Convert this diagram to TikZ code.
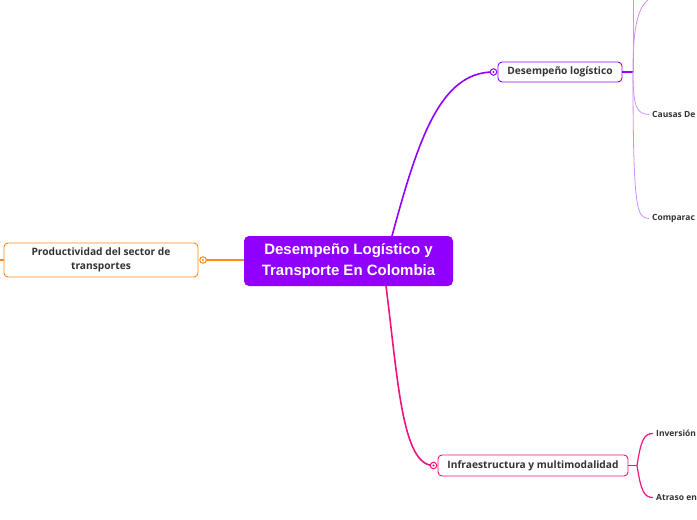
\documentclass[tikz,border=0pt]{standalone}
\usepackage{fontspec}
\setmainfont{Open Sans}
\newfontfamily\centralfont{Liberation Sans}
\definecolor{mpurple}{HTML}{8F00FF}
\definecolor{lpurple}{HTML}{C990FF}
\definecolor{mpink}{HTML}{F2127C}
\definecolor{morange}{HTML}{FF8A1C}
\definecolor{mtext}{HTML}{333333}
\tikzset{
  central/.style={fill=mpurple, rounded corners=5pt, minimum width=209pt, minimum height=50pt,
    inner sep=0pt, align=center, text=white, font=\centralfont\bfseries\fontsize{15}{21}\selectfont},
  topic/.style={draw=#1, fill=white, line width=0.9pt, rounded corners=4pt, inner sep=0pt,
    align=center, text=mtext, font=\bfseries\fontsize{10.2}{13.5}\selectfont},
  sub/.style={anchor=west, inner sep=0pt, text=mtext, font=\bfseries\fontsize{8.5}{10}\selectfont},
  conn/.style={draw=#1, line width=1.6pt},
  thin/.style={draw=#1, line width=0.8pt},
  knob/.style={circle, draw=#1, fill=white, line width=1pt, inner sep=0pt, minimum size=6.5pt},
}
\begin{document}
\begin{tikzpicture}[x=1pt,y=-1pt]
\useasboundingbox (0,0) rectangle (697,520);
% nodes
\node[central] (c) at (348.5,261) {Desempeño Logístico y\\Transporte En Colombia};
\node[topic=mpurple, minimum width=124pt, minimum height=20pt] (d) at (560,72) {Desempeño logístico};
\node[topic=mpink, minimum width=190pt, minimum height=21pt] (i) at (533,465.5) {Infraestructura y multimodalidad};
\node[topic=morange, minimum width=194pt, minimum height=34pt] (p) at (101,260) {Productividad del sector de\\transportes};
\coordinate (dk) at (493.5,72);
\coordinate (ik) at (433.5,465.5);
\coordinate (pk) at (203,260);
% labels of sub topics
\node[sub] (s1) at (652,114.5) {Causas De};
\node[sub] (s2) at (652,218.5) {Comparac};
\node[sub] (s3) at (656,433.5) {Inversión};
\node[sub] (s4) at (656,497.5) {Atraso en};
\coordinate (dt) at (633,72);
\coordinate (it) at (637,465.5);
\coordinate (up1) at (633,0);
\coordinate (up2) at (648,0);
\coordinate (lft) at (0,260);
% main connectors
\draw[conn=mpurple] (392,236) .. controls (418,140) and (440,72) .. (dk);
\draw[conn=mpink] (386,286) .. controls (398,380) and (402,465.5) .. (ik);
\draw[conn=morange] (c.west |- pk) -- (pk);
\draw[conn=morange] (p.west) -- (lft);
% purple sub branches
\draw[conn=mpurple] (d.east) -- (dt);
\draw[thin=lpurple] (dt) -- (up1);
\draw[thin=lpurple] (dt) .. controls (633,40) and (635,10) .. (up2);
\draw[thin=lpurple] (dt) .. controls (633,108) and (637,114) .. ([xshift=-3pt]s1.west);
\draw[thin=lpurple] (dt) .. controls (633,212) and (637,218) .. ([xshift=-3pt]s2.west);
% pink sub branches
\draw[conn=mpink] (i.east) -- (it);
\draw[conn=mpink, line width=1.2pt] (it) .. controls (641,440) and (644,433.5) .. ([xshift=-3pt]s3.west);
\draw[conn=mpink, line width=1.2pt] (it) .. controls (641,491) and (644,497.5) .. ([xshift=-3pt]s4.west);
% knobs
\node[knob=mpurple] (dkn) at (dk) {};
\fill[mpurple] (dkn.center) circle (1.2pt);
\node[knob=mpink] (ikn) at (ik) {};
\fill[mpink] (ikn.center) circle (1.2pt);
\node[knob=morange] (pkn) at (pk) {};
\fill[morange] (pkn.center) circle (1.2pt);
\end{tikzpicture}
\end{document}
